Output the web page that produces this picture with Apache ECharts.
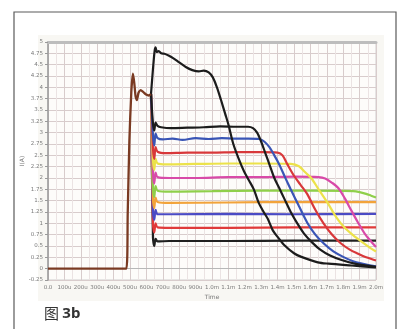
<!DOCTYPE html>
<html>
<head>
<meta charset="utf-8">
<script src="https://cdn.jsdelivr.net/npm/echarts@6/dist/echarts.min.js"></script>
<style>
  html, body { margin: 0; padding: 0; background: #ffffff; }
  #chart { width: 400px; height: 329px; }
</style>
</head>
<body>
<div id="chart"></div>
<script>
// Time axis tick labels (0 .. 2.0 ms in 100 µs steps)
const timeTickLabels = ['0.0', '100u', '200u', '300u', '400u', '500u', '600u', '700u', '800u', '900u',
  '1.0m', '1.1m', '1.2m', '1.3m', '1.4m', '1.5m', '1.6m', '1.7m', '1.8m', '1.9m', '2.0m'];

// Shared turn-on waveform, [time µs, current A]
const turnOn = [[0, 0], [478, 0], [486, 1.2], [496, 2.8], [508, 3.9], [518, 4.3], [526, 4.1], [534, 3.8],
  [542, 3.72], [552, 3.88], [565, 3.94], [580, 3.9], [598, 3.84], [615, 3.82], [628, 3.85]];

// Individual current traces after the turn-on phase
const traceTop = [[628, 3.85], [640, 4.4], [650, 4.8], [656, 4.88], [664, 4.78], [675, 4.8], [690, 4.75],
  [710, 4.74], [735, 4.7], [765, 4.64], [800, 4.55], [840, 4.45], [880, 4.38], [920, 4.35], [950, 4.37],
  [980, 4.33], [1005, 4.22], [1030, 4.0], [1055, 3.72], [1080, 3.42], [1100, 3.18], [1130, 2.75],
  [1160, 2.45], [1195, 2.15], [1225, 1.95], [1255, 1.75], [1285, 1.45], [1315, 1.25], [1340, 1.1],
  [1370, 0.85], [1400, 0.7], [1440, 0.52], [1500, 0.34], [1545, 0.26], [1645, 0.14], [1710, 0.11],
  [1850, 0.07], [2000, 0.03]];
const traceBlack = [[628, 3.85], [640, 3.2], [648, 3.05], [656, 3.22], [668, 3.15], [690, 3.12], [750, 3.1],
  [850, 3.11], [950, 3.12], [1050, 3.14], [1150, 3.13], [1220, 3.13], [1250, 3.1], [1275, 3.0], [1300, 2.8],
  [1325, 2.55], [1350, 2.3], [1380, 2.0], [1410, 1.78], [1440, 1.55], [1480, 1.25], [1520, 1.0],
  [1560, 0.78], [1610, 0.58], [1660, 0.42], [1720, 0.29], [1790, 0.19], [1870, 0.11], [2000, 0.04]];
const traceBlue = [[628, 3.85], [640, 2.95], [648, 2.72], [656, 2.98], [668, 2.88], [700, 2.85], [760, 2.87],
  [820, 2.84], [900, 2.88], [980, 2.86], [1060, 2.88], [1140, 2.87], [1220, 2.87], [1290, 2.86],
  [1320, 2.8], [1350, 2.68], [1380, 2.5], [1410, 2.3], [1445, 2.02], [1480, 1.75], [1530, 1.38],
  [1580, 1.02], [1630, 0.75], [1680, 0.56], [1740, 0.38], [1800, 0.26], [1880, 0.14], [2000, 0.05]];
const traceRed = [[628, 3.85], [640, 2.65], [648, 2.42], [656, 2.68], [668, 2.58], [720, 2.55], [850, 2.56],
  [1000, 2.56], [1150, 2.57], [1300, 2.57], [1400, 2.56], [1430, 2.5], [1460, 2.3], [1500, 2.05],
  [1540, 1.85], [1580, 1.65], [1630, 1.3], [1680, 1.0], [1730, 0.76], [1785, 0.56], [1840, 0.42],
  [1890, 0.33], [1940, 0.25], [2000, 0.18]];
const traceYellow = [[628, 3.85], [640, 2.4], [648, 2.18], [656, 2.42], [668, 2.32], [720, 2.3], [900, 2.31],
  [1100, 2.32], [1300, 2.32], [1480, 2.31], [1530, 2.26], [1570, 2.12], [1605, 2.0], [1650, 1.75],
  [1705, 1.45], [1755, 1.15], [1805, 0.92], [1860, 0.74], [1910, 0.6], [1960, 0.47], [2000, 0.38]];
const traceMagenta = [[628, 3.85], [640, 2.1], [648, 1.88], [656, 2.12], [668, 2.02], [740, 2.0], [900, 2.0],
  [1100, 2.02], [1300, 2.02], [1500, 2.03], [1650, 2.02], [1690, 1.99], [1730, 1.9], [1770, 1.78],
  [1810, 1.55], [1850, 1.28], [1890, 1.02], [1930, 0.78], [1970, 0.6], [2000, 0.48]];
const traceGreen = [[628, 3.85], [640, 1.8], [648, 1.58], [656, 1.82], [668, 1.72], [740, 1.7], [1000, 1.71],
  [1300, 1.72], [1600, 1.72], [1860, 1.71], [1900, 1.69], [1940, 1.65], [1970, 1.61], [2000, 1.57]];
const traceOrange = [[628, 3.85], [640, 1.55], [648, 1.34], [656, 1.57], [668, 1.47], [740, 1.45],
  [1100, 1.46], [1500, 1.47], [2000, 1.47]];
const traceBlue2 = [[628, 3.85], [640, 1.28], [648, 1.08], [656, 1.3], [668, 1.2], [740, 1.2], [1100, 1.21],
  [1500, 1.2], [2000, 1.21]];
const traceRed2 = [[628, 3.85], [640, 0.98], [648, 0.8], [656, 1.0], [668, 0.91], [740, 0.9], [1100, 0.9],
  [1500, 0.91], [2000, 0.91]];
const traceBlack2 = [[628, 3.85], [640, 0.68], [648, 0.5], [656, 0.66], [668, 0.6], [740, 0.61], [1100, 0.61],
  [1500, 0.62], [2000, 0.62]];

const traces = [
  { data: traceTop, color: '#1c1c1c' },
  { data: traceBlack, color: '#1c1c1c' },
  { data: traceBlue, color: '#3a55b5' },
  { data: traceRed, color: '#d8383a' },
  { data: traceYellow, color: '#ece24a' },
  { data: traceMagenta, color: '#d84aa8' },
  { data: traceGreen, color: '#8fcf4a' },
  { data: traceOrange, color: '#f2a33a' },
  { data: traceBlue2, color: '#4a4ac4' },
  { data: traceRed2, color: '#e03a3a' },
  { data: traceBlack2, color: '#202020' }
];

const series = traces.map(function (t, i) {
  return {
    type: 'line', data: t.data, showSymbol: false, smooth: 0.3,
    lineStyle: { color: t.color, width: 2.2 }, z: 3 + (traces.length - i) * 0.01, silent: true
  };
});
series.push({
  type: 'line', data: turnOn, showSymbol: false, smooth: 0.2,
  lineStyle: { color: '#7a3a22', width: 2.3 }, z: 5, silent: true
});

const chart = echarts.init(document.getElementById('chart'), null, { renderer: 'canvas' });
chart.setOption({
  animation: false,
  backgroundColor: '#ffffff',
  grid: { left: 48, right: 24, top: 42, bottom: 49, show: true, backgroundColor: '#fdfcfa', borderColor: '#cfcfcf', borderWidth: 1 },
  graphic: [
    { type: 'rect', shape: { x: 38, y: 35, width: 346, height: 266 }, style: { fill: '#f8f7f3' }, z: -10, silent: true },
    { type: 'rect', shape: { x: 14, y: 12, width: 382, height: 340 }, style: { fill: 'none', stroke: '#5a5a5a', lineWidth: 1.2 }, z: 10, silent: true },
    {
      type: 'text', left: 44, top: 306, z: 10, silent: true,
      style: {
        text: '{a|图} {b|3b}',
        rich: {
          a: { fontFamily: 'Noto Sans CJK SC', fontSize: 15, fill: '#333333' },
          b: { fontFamily: 'Noto Sans', fontSize: 15, fontWeight: 'bold', fill: '#333333' }
        }
      }
    }
  ],
  xAxis: [{
    type: 'value', min: 0, max: 2000, interval: 100,
    name: 'Time', nameLocation: 'middle', nameGap: 14, nameMoveOverlap: false,
    nameTextStyle: { fontSize: 6, color: '#777', fontFamily: 'DejaVu Sans' },
    axisLine: { show: true, lineStyle: { color: '#b8b8b8', width: 1 } },
    axisTick: { show: false },
    axisLabel: {
      fontSize: 5.5, color: '#7a7a7a', margin: 5, interval: 0, fontFamily: 'DejaVu Sans',
      formatter: function (v) { return timeTickLabels[Math.round(v / 100)]; }
    },
    splitLine: { show: true, lineStyle: { color: '#d8cccc', width: 1 } },
    minorTick: { show: false, splitNumber: 2 },
    minorSplitLine: { show: true, lineStyle: { color: '#ebe3e3', width: 1 } }
  }, {
    type: 'value', min: 0, max: 2000, position: 'top',
    axisLine: { show: true, lineStyle: { color: '#bdbdbd', width: 3 } },
    axisTick: { show: false }, axisLabel: { show: false }, splitLine: { show: false }
  }],
  yAxis: {
    type: 'value', min: -0.25, max: 5, interval: 0.25,
    name: 'I(A)', nameLocation: 'middle', nameGap: 23, nameRotate: 90, nameMoveOverlap: false,
    nameTextStyle: { fontSize: 6, color: '#777', fontFamily: 'DejaVu Sans' },
    axisLine: { show: true, lineStyle: { color: '#9a9a9a', width: 1.5 } },
    axisTick: { show: true, length: 3, lineStyle: { color: '#999' } },
    axisLabel: { fontSize: 5.5, color: '#7a7a7a', margin: 5, fontFamily: 'DejaVu Sans' },
    splitLine: { show: true, lineStyle: { color: '#d8cccc', width: 1 } }
  },
  series: series
});
</script>
</body>
</html>
